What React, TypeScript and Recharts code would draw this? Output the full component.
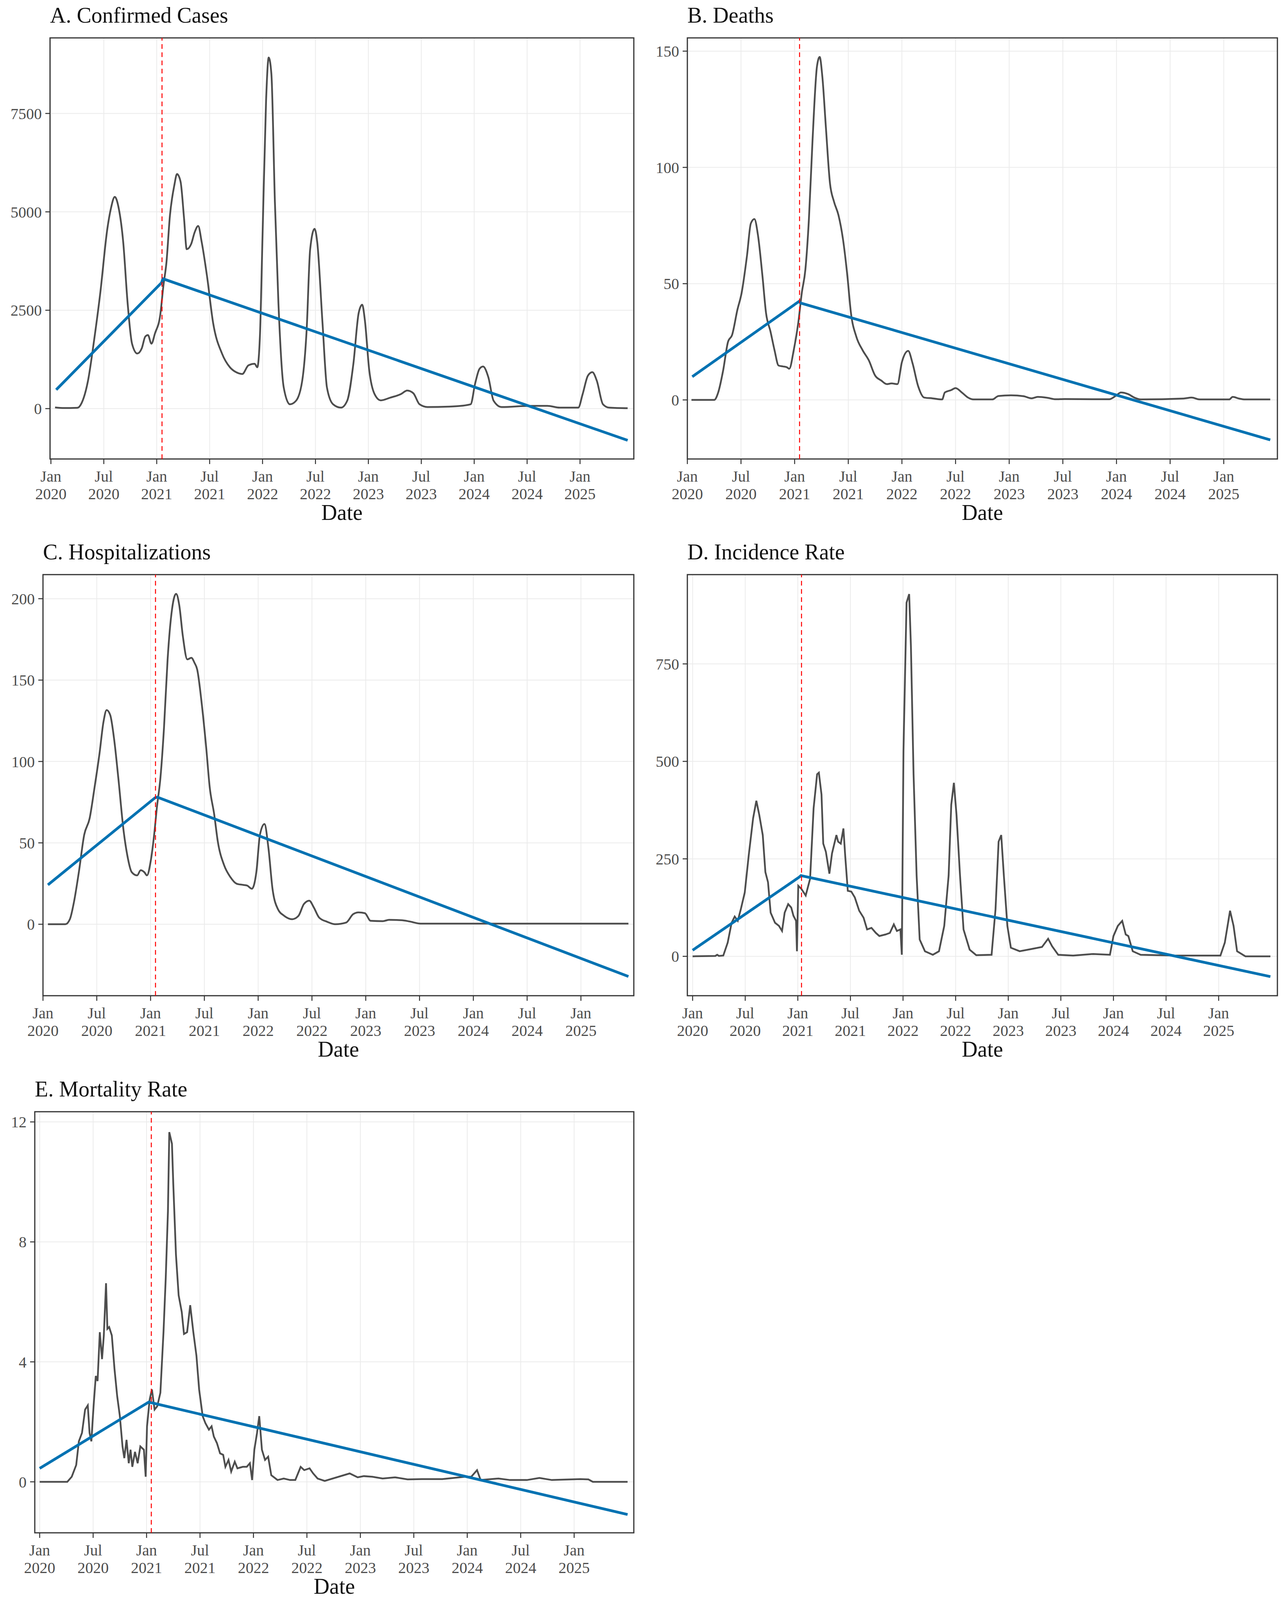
import React from 'react';
import { LineChart, Line, XAxis, YAxis, CartesianGrid, ReferenceLine, ReferenceArea } from 'recharts';

const FONT = '"Liberation Serif", "Times New Roman", serif';
const GREY = '#4d4d4d';
const BLUE = '#0072B2';

// x values are months since Jan 1, 2020
const tickMonths = [0, 6, 12, 18, 24, 30, 36, 42, 48, 54, 60];
const tickMonthNames = ['Jan', 'Jul', 'Jan', 'Jul', 'Jan', 'Jul', 'Jan', 'Jul', 'Jan', 'Jul', 'Jan'];
const tickYears = ['2020', '2020', '2021', '2021', '2022', '2022', '2023', '2023', '2024', '2024', '2025'];

// A. Confirmed Cases
const casesSeries: [number, number][] = [
  [0.47, 30], [1.5, 15], [3.0, 20], [3.5, 150], [4.2, 700], [4.9, 1740], [5.6, 2940], [6.4, 4570],
  [6.8, 5080], [7.24, 5380], [7.7, 5080], [8.2, 4230], [8.7, 2680], [9.2, 1650], [9.8, 1400],
  [10.3, 1530], [10.7, 1830], [11.0, 1870], [11.4, 1650], [11.8, 1910], [12.4, 2380], [12.75, 3110],
  [13.1, 3710], [13.5, 4910], [14.0, 5680], [14.3, 5960], [14.7, 5770], [15.1, 4830], [15.4, 4050],
  [15.9, 4180], [16.3, 4480], [16.7, 4640], [17.1, 4230], [17.7, 3370], [18.4, 2170], [19.4, 1400],
  [20.3, 1050], [21.0, 925], [21.7, 880], [22.4, 1100], [23.1, 1140], [23.4, 1050], [23.7, 1830],
  [24.0, 4400], [24.4, 7830], [24.7, 8920], [25.0, 8510], [25.4, 5250], [25.8, 2680], [26.4, 540],
  [27.1, 110], [27.8, 200], [28.5, 710], [29.0, 2000], [29.4, 4050], [29.9, 4570], [30.2, 4230],
  [30.8, 2170], [31.3, 540], [32.0, 110], [32.9, 25], [33.6, 200], [34.3, 1140], [34.9, 2430],
  [35.3, 2640], [35.6, 2250], [36.1, 970], [36.7, 370], [37.4, 210], [38.5, 280], [39.7, 370],
  [40.4, 460], [41.1, 390], [41.8, 110], [42.7, 40], [45.1, 50], [46.5, 70], [47.6, 110],
  [48.1, 630], [48.6, 1010], [49.0, 1070], [49.6, 800], [50.2, 200], [51.1, 40], [54.4, 70],
  [56.3, 70], [57.7, 25], [59.8, 25], [60.3, 370], [60.9, 840], [61.4, 925], [61.9, 710],
  [62.6, 110], [63.3, 25], [65.4, 10],
];
const casesTrend: [number, number][] = [[0.6, 480], [12.55, 3200], [12.7, 3300], [65.4, -806]];

// B. Deaths
const deathsSeries: [number, number][] = [
  [0.46, 0], [3.0, 0], [3.45, 3.2], [4.0, 12.6], [4.55, 25], [5.0, 27.9], [5.6, 38.8], [6.07, 46],
  [6.67, 62], [7.1, 75.9], [7.5, 77.8], [7.9, 70.8], [8.4, 53.3], [8.8, 37.4], [9.3, 29.4],
  [9.75, 21.4], [10.2, 14.8], [10.7, 14.4], [11.1, 14.1], [11.4, 13.4], [11.9, 21.4], [12.4, 33],
  [12.8, 46], [13.2, 56], [13.6, 78], [14.0, 111.5], [14.5, 143.5], [14.8, 147.5], [15.1, 139],
  [15.5, 117], [15.95, 93.3], [16.4, 85.3], [16.9, 79.5], [17.4, 69.3], [17.9, 53.3], [18.3, 37.4],
  [18.9, 27.2], [19.6, 21.4], [20.3, 17], [21.0, 10.5], [21.7, 8.3], [22.3, 6.8], [22.85, 7.1],
  [23.5, 6.8], [24.0, 16.3], [24.7, 21.1], [25.2, 15.6], [25.8, 6.1], [26.5, 1], [27.4, 0.7],
  [28.5, 0.2], [28.8, 3.2], [29.5, 4.2], [30.0, 5.1], [30.7, 3.2], [31.4, 1], [32.0, 0.2],
  [34.1, 0.2], [34.8, 1.7], [36.2, 2], [37.6, 1.6], [38.5, 0.7], [39.2, 1.3], [40.3, 0.9],
  [41.2, 0.3], [42.2, 0.4], [45.4, 0.3], [47.2, 0.3], [47.9, 1.7], [48.5, 3.2], [49.3, 2.5],
  [50.0, 1], [50.7, 0.2], [55.5, 0.6], [56.4, 1], [57.3, 0.2], [60.6, 0.2], [61.0, 1.3],
  [61.7, 0.6], [62.4, 0.2], [65.2, 0.2],
];
const deathsTrend: [number, number][] = [[0.55, 10.0], [12.5, 42.4], [12.65, 41.7], [65.2, -17.2]];

// C. Hospitalizations
const hospSeries: [number, number][] = [
  [0.55, 0], [2.5, 0], [3.0, 3.1], [3.45, 13.5], [4.0, 32], [4.6, 55], [5.2, 65], [5.75, 84],
  [6.3, 104.7], [6.75, 124.4], [7.1, 131.6], [7.5, 128.5], [7.95, 113], [8.4, 90], [9.0, 57],
  [9.4, 42.5], [9.9, 32], [10.5, 30], [10.9, 33.2], [11.3, 32], [11.6, 30], [12.0, 38.3],
  [12.4, 55], [12.7, 71.5], [13.1, 90], [13.5, 121], [13.9, 162.7], [14.4, 193.8], [14.85, 203],
  [15.2, 196], [15.6, 177], [16.1, 162.7], [16.55, 163.7], [16.9, 160.6], [17.2, 156.5],
  [17.7, 135.8], [18.2, 108.8], [18.6, 84], [19.1, 67.4], [19.5, 50.8], [20.2, 36.3], [20.9, 29],
  [21.6, 24.9], [22.3, 24.2], [22.75, 23.8], [23.3, 21.8], [23.8, 32.1], [24.2, 55], [24.7, 61.6],
  [25.15, 46.6], [25.6, 21.8], [26.2, 9.3], [26.9, 5.2], [27.8, 3.1], [28.5, 5.2], [29.1, 12.4],
  [29.7, 14.5], [30.2, 10.4], [30.8, 4.1], [31.7, 1.5], [32.6, 0], [33.8, 1], [34.6, 6.2],
  [35.2, 7.3], [35.9, 6.8], [36.55, 2.1], [37.9, 1.9], [38.6, 2.7], [40.0, 2.5], [40.9, 1.7],
  [42.1, 0.4], [65.3, 0.4],
];
const hospTrend: [number, number][] = [[0.55, 24.2], [12.5, 77.7], [12.75, 78.1], [65.3, -32.1]];

// D. Incidence Rate
const incidenceSeries: [number, number][] = [
  [0, 0], [2.6, 1], [2.8, 4], [3.0, 1], [3.5, 2], [4.0, 35], [4.45, 86], [4.8, 102], [5.15, 91],
  [5.5, 121], [5.95, 164], [6.4, 259], [6.9, 354], [7.27, 399], [7.6, 363], [8.0, 311], [8.3, 216],
  [8.6, 190], [8.9, 112], [9.4, 86], [9.85, 78], [10.2, 65], [10.5, 112], [10.9, 134], [11.25, 125],
  [11.5, 104], [11.8, 91], [11.9, 13], [12.05, 181], [12.4, 173], [12.9, 156], [13.4, 199],
  [13.8, 380], [14.2, 467], [14.4, 471], [14.7, 415], [14.9, 289], [15.2, 268], [15.6, 212],
  [15.9, 264], [16.4, 311], [16.6, 294], [16.9, 289], [17.2, 328], [17.4, 259], [17.7, 168],
  [18.1, 166], [18.5, 151], [19.0, 117], [19.5, 99], [19.9, 69], [20.4, 73], [20.9, 60],
  [21.3, 52], [22.0, 56], [22.5, 60], [22.95, 82], [23.3, 65], [23.7, 69], [23.86, 4],
  [24.05, 527], [24.4, 907], [24.7, 929], [24.9, 795], [25.2, 467], [25.55, 207], [25.9, 43],
  [26.5, 13], [27.4, 4], [28.1, 13], [28.7, 78], [29.2, 207], [29.5, 389], [29.8, 445],
  [30.1, 363], [30.5, 207], [30.9, 69], [31.6, 17], [32.35, 3], [34.1, 4], [34.55, 121],
  [34.9, 294], [35.2, 311], [35.5, 207], [35.9, 78], [36.3, 22], [37.3, 13], [38.7, 19],
  [39.85, 24], [40.55, 45], [41.0, 26], [41.7, 4], [43.4, 2], [45.7, 6], [47.6, 4], [48.0, 52],
  [48.5, 78], [49.0, 91], [49.4, 56], [49.7, 52], [50.2, 13], [51.1, 4], [55.1, 2], [60.2, 2],
  [60.7, 35], [61.3, 117], [61.7, 78], [62.1, 13], [63.05, 0], [65.9, 0],
];
const incidenceTrend: [number, number][] = [[0, 15.6], [12.15, 203], [12.35, 207], [65.9, -52]];

// E. Mortality Rate
const mortalitySeries: [number, number][] = [
  [0, 0], [3.1, 0], [3.6, 0.17], [4.1, 0.56], [4.4, 1.35], [4.75, 1.63], [5.1, 2.41], [5.4, 2.55],
  [5.6, 1.63], [5.8, 1.35], [6.05, 2.52], [6.3, 3.53], [6.5, 3.36], [6.75, 4.99], [7.0, 4.09],
  [7.2, 4.88], [7.45, 6.62], [7.6, 5.1], [7.8, 5.16], [8.1, 4.88], [8.4, 3.76], [8.7, 2.86],
  [9.0, 2.19], [9.3, 1.18], [9.5, 0.79], [9.75, 1.4], [10.0, 0.62], [10.2, 1.07], [10.4, 0.5],
  [10.7, 1.0], [11.0, 0.62], [11.3, 1.18], [11.7, 1.07], [11.9, 0.17], [12.05, 1.85], [12.35, 2.75],
  [12.6, 3.08], [12.9, 2.41], [13.2, 2.52], [13.55, 2.97], [13.9, 4.99], [14.15, 6.78], [14.4, 9.03],
  [14.55, 11.66], [14.85, 11.27], [15.0, 9.92], [15.3, 7.57], [15.6, 6.22], [15.95, 5.66],
  [16.2, 4.93], [16.55, 4.99], [16.9, 5.89], [17.25, 4.99], [17.6, 4.2], [17.9, 3.08], [18.3, 2.19],
  [18.6, 1.96], [19.0, 1.74], [19.3, 1.85], [19.55, 1.51], [19.9, 1.29], [20.25, 0.95], [20.6, 0.9],
  [20.85, 0.5], [21.2, 0.73], [21.5, 0.34], [21.9, 0.67], [22.2, 0.45], [22.8, 0.5], [23.25, 0.5],
  [23.6, 0.62], [23.85, 0.06], [24.1, 1.07], [24.4, 1.63], [24.65, 2.19], [24.95, 1.07], [25.3, 0.73],
  [25.65, 0.84], [26.0, 0.22], [26.7, 0.06], [27.4, 0.11], [28.1, 0.06], [28.7, 0.06], [29.3, 0.5],
  [29.7, 0.39], [30.3, 0.45], [30.7, 0.28], [31.2, 0.11], [32.0, 0.03], [34.8, 0.28], [35.7, 0.15],
  [36.4, 0.19], [37.35, 0.17], [38.5, 0.11], [39.9, 0.15], [41.3, 0.08], [42.9, 0.09], [45.2, 0.09],
  [47.75, 0.17], [48.45, 0.17], [49.1, 0.39], [49.5, 0.06], [51.5, 0.11], [52.8, 0.06], [54.7, 0.06],
  [56.1, 0.13], [57.5, 0.06], [60.7, 0.09], [61.6, 0.08], [62.1, 0], [66.0, 0],
];
const mortalityTrend: [number, number][] = [[0, 0.45], [12.25, 2.66], [12.5, 2.64], [66.0, -1.09]];

const toRows = (pts: [number, number][]) => pts.map(([m, v]) => ({ m, v }));

type PanelProps = {
  title: string;
  series: [number, number][];
  trend: [number, number][];
  breakMonth: number;
  xDomain: [number, number];
  yDomain: [number, number];
  yTicks: number[];
  curve: 'monotone' | 'linear';
  box: { l: number; t: number; r: number; b: number };
};

const Y_AXIS_W = 180;
const X_AXIS_H = 200;
const PAD_T = 10;
const PAD_R = 20;

const DateTick = (props: any) => {
  const { x, y, payload } = props;
  const i = tickMonths.indexOf(payload.value);
  return (
    <text x={x} y={y} textAnchor="middle" fill={GREY} fontFamily={FONT} fontSize={40}>
      <tspan x={x} dy={43}>{tickMonthNames[i]}</tspan>
      <tspan x={x} dy={45}>{tickYears[i]}</tspan>
    </text>
  );
};

function Panel({ title, series, trend, breakMonth, xDomain, yDomain, yTicks, curve, box }: PanelProps) {
  const plotW = box.r - box.l;
  const plotH = box.b - box.t;
  return (
    <>
      <div
        style={{
          position: 'absolute', left: box.l, top: box.t - 86, fontFamily: FONT, fontSize: 56,
          lineHeight: '56px', color: '#111', whiteSpace: 'nowrap',
        }}
      >
        {title}
      </div>
      <div style={{ position: 'absolute', left: box.l - Y_AXIS_W, top: box.t - PAD_T }}>
        <LineChart
          width={plotW + Y_AXIS_W + PAD_R}
          height={plotH + PAD_T + X_AXIS_H}
          margin={{ top: PAD_T, right: PAD_R, bottom: 0, left: 0 }}
        >
          <CartesianGrid stroke="#ebebeb" strokeWidth={2} />
          <XAxis
            type="number"
            dataKey="m"
            domain={xDomain}
            ticks={tickMonths}
            interval={0}
            allowDataOverflow
            height={X_AXIS_H}
            axisLine={false}
            tickLine={{ stroke: '#333', strokeWidth: 2.5 }}
            tickSize={13}
            tick={<DateTick />}
            label={{ value: 'Date', position: 'insideBottom', offset: 44, fill: '#111', fontSize: 56, fontFamily: FONT }}
          />
          <YAxis
            type="number"
            domain={yDomain}
            ticks={yTicks}
            interval={0}
            allowDataOverflow
            width={Y_AXIS_W}
            axisLine={false}
            tickLine={{ stroke: '#333', strokeWidth: 2.5 }}
            tickSize={12}
            tickMargin={9}
            tick={{ fill: GREY, fontSize: 40, fontFamily: FONT }}
          />
          <Line
            data={toRows(series)}
            dataKey="v"
            type={curve}
            stroke={GREY}
            strokeWidth={4.5}
            dot={false}
            isAnimationActive={false}
          />
          <Line
            data={toRows(trend)}
            dataKey="v"
            type="linear"
            stroke={BLUE}
            strokeWidth={7}
            dot={false}
            isAnimationActive={false}
          />
          <ReferenceLine x={breakMonth} stroke="#ff0000" strokeWidth={2.5} strokeDasharray="12 9" />
          <ReferenceArea
            x1={xDomain[0]}
            x2={xDomain[1]}
            y1={yDomain[0]}
            y2={yDomain[1]}
            fill="none"
            stroke="#333"
            strokeWidth={3}
            ifOverflow="visible"
          />
        </LineChart>
      </div>
    </>
  );
}

export default function App() {
  return (
    <div style={{ position: 'absolute', left: 0, top: 0, width: 3291, height: 4103, background: '#fff' }}>
      <Panel
        title="A. Confirmed Cases"
        series={casesSeries}
        trend={casesTrend}
        breakMonth={12.6}
        xDomain={[-0.1, 66.1]}
        yDomain={[-1280, 9420]}
        yTicks={[0, 2500, 5000, 7500]}
        curve="monotone"
        box={{ l: 128, t: 97, r: 1622, b: 1175 }}
      />
      <Panel
        title="B. Deaths"
        series={deathsSeries}
        trend={deathsTrend}
        breakMonth={12.55}
        xDomain={[0, 66]}
        yDomain={[-25.4, 155.7]}
        yTicks={[0, 50, 100, 150]}
        curve="monotone"
        box={{ l: 1759, t: 97, r: 3269, b: 1175 }}
      />
      <Panel
        title="C. Hospitalizations"
        series={hospSeries}
        trend={hospTrend}
        breakMonth={12.55}
        xDomain={[0, 65.9]}
        yDomain={[-43.9, 214.8]}
        yTicks={[0, 50, 100, 150, 200]}
        curve="monotone"
        box={{ l: 110, t: 1471, r: 1622, b: 2549 }}
      />
      <Panel
        title="D. Incidence Rate"
        series={incidenceSeries}
        trend={incidenceTrend}
        breakMonth={12.42}
        xDomain={[-0.6, 66.7]}
        yDomain={[-101, 979]}
        yTicks={[0, 250, 500, 750]}
        curve="linear"
        box={{ l: 1759, t: 1471, r: 3269, b: 2549 }}
      />
      <Panel
        title="E. Mortality Rate"
        series={mortalitySeries}
        trend={mortalityTrend}
        breakMonth={12.53}
        xDomain={[-0.55, 66.7]}
        yDomain={[-1.7, 12.34]}
        yTicks={[0, 4, 8, 12]}
        curve="linear"
        box={{ l: 89, t: 2846, r: 1622, b: 3924 }}
      />
    </div>
  );
}
